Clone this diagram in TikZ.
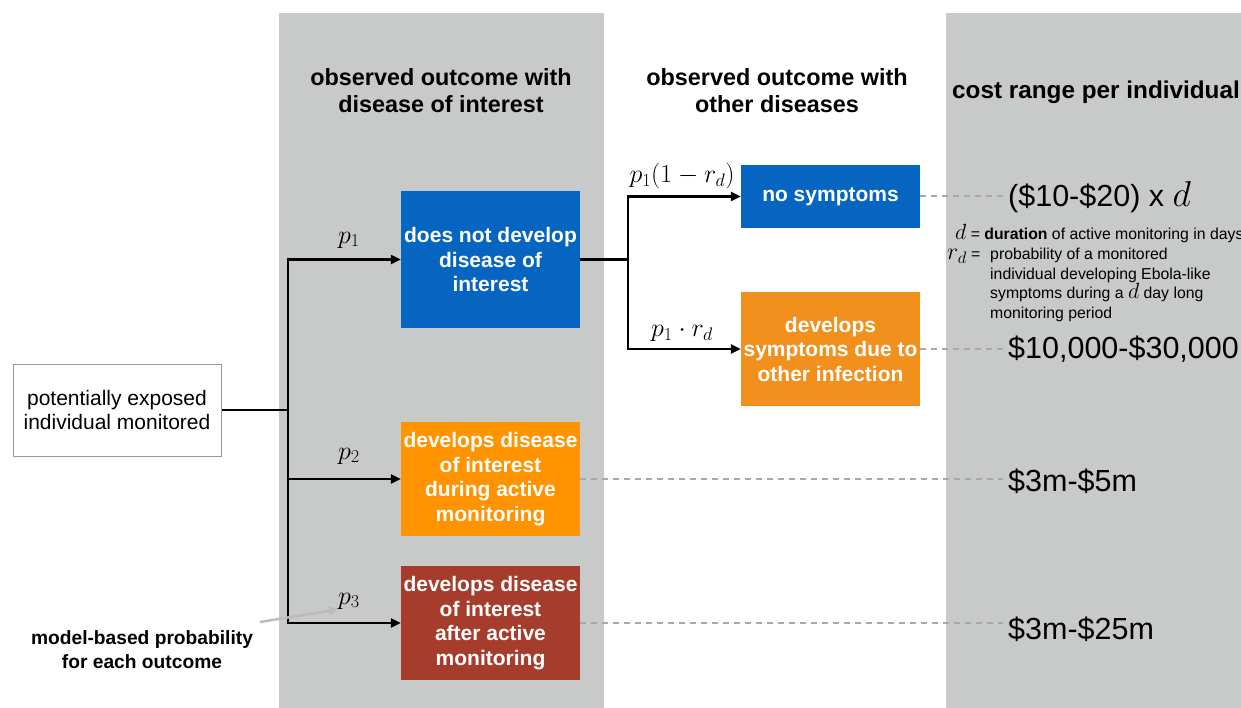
\RequirePackage{fix-cm}
\documentclass[tikz,border=0pt]{standalone}
\usepackage{fontspec}
\setmainfont{Liberation Sans}
\usetikzlibrary{arrows.meta}
\definecolor{panelgray}{HTML}{C8C9C9}
\definecolor{boxblue}{HTML}{0565C1}
\definecolor{boxorange}{HTML}{FF9300}
\definecolor{boxred}{HTML}{A63D2C}
\definecolor{othorange}{HTML}{F2901E}
\definecolor{dashgray}{HTML}{A9A9A9}
\definecolor{arrgray}{HTML}{BBBBBB}
\tikzset{
  panel/.style={fill=panelgray,draw=none},
  coltitle/.style={font=\bfseries\fontsize{23.4}{27}\selectfont,align=center,inner sep=0pt},
  outbox/.style={text=white,font=\bfseries\fontsize{21}{24.5}\selectfont,align=center,inner sep=0pt,minimum width=179pt},
  conn/.style={line width=2.4pt,draw=black},
  arr/.style={conn,-{Triangle[length=10pt,width=9pt]}},
  dashline/.style={line width=2pt,draw=dashgray,dash pattern=on 6pt off 5pt},
  problabel/.style={font=\fontsize{26}{26}\selectfont,inner sep=0pt},
  cost/.style={font=\fontsize{30.5}{30.5}\selectfont,anchor=west,inner sep=5pt},
  legend/.style={font=\fontsize{15.8}{19.5}\selectfont,inner sep=0pt,align=left},
}
\begin{document}
\begin{tikzpicture}[x=1pt,y=-1pt]
\useasboundingbox (0,0) rectangle (1241,708);
\fill[panel] (279,13) rectangle (604,708);
\fill[panel] (946,13) rectangle (1241,708);

\node[coltitle] (t1) at (441,90.5) {observed outcome with\\disease of interest};
\node[coltitle] (t2) at (777,90.5) {observed outcome with\\other diseases};
\node[coltitle,font=\bfseries\fontsize{24.3}{27}\selectfont,anchor=west] (t3) at (952,92) {cost range per individual};

\node[draw=gray!80,line width=1pt,fill=white,minimum width=208pt,minimum height=92pt,align=center,inner sep=0pt,font=\fontsize{21}{24.5}\selectfont] (src) at (117,410) {potentially exposed\\individual monitored};

\node[outbox,fill=boxblue,minimum height=137pt] (b1) at (490.5,259.5) {does not develop\\disease of\\interest};
\node[outbox,fill=boxorange,minimum height=114pt] (b2) at (490.5,479) {develops disease\\of interest\\during active\\monitoring};
\node[outbox,fill=boxred,minimum height=114pt] (b3) at (490.5,623) {develops disease\\of interest\\after active\\monitoring};
\node[outbox,fill=boxblue,minimum height=63pt] (ns) at (830.5,196.5) {no symptoms};
\node[outbox,fill=othorange,minimum height=114pt] (oi) at (830.5,349) {develops\\symptoms due to\\other infection};

\coordinate (j1) at (288,410);
\draw[conn] (src.east) -- (j1);
\draw[arr] (j1) |- (b1.west);
\draw[arr] (j1) |- (b2.west);
\draw[arr] (j1) |- (b3.west);
\draw[conn] (b1.east) -- ++(48,0) coordinate (j2);
\draw[arr] (j2) |- (ns.west);
\draw[arr] (j2) |- (oi.west);

\node[problabel] (p1) at (349,240) {$p_1$};
\node[problabel] (p2) at (349,456) {$p_2$};
\node[problabel] (p3) at (349,601) {$p_3$};
\node[problabel] (p11) at (682,176) {$p_1(1-r_d)$};
\node[problabel] (p12) at (682,333) {$p_1\cdot r_d$};

\node[cost] (c1) at (1003,197) {(\$10-\$20) x {\fontsize{36}{36}\selectfont$d$}};
\node[cost] (c2) at (1003,349) {\$10,000-\$30,000};
\node[cost] (c3) at (1003,481) {\$3m-\$5m};
\node[cost] (c4) at (1003,629) {\$3m-\$25m};
\draw[dashline] (ns.east) -- (ns.east -| c1.west);
\draw[dashline] (oi.east) -- (oi.east -| c2.west);
\draw[dashline] (b2.east) -- (b2.east -| c3.west);
\draw[dashline] (b3.east) -- (b3.east -| c4.west);

\node[legend,anchor=base west] (l1) at (955,240) {{\fontsize{22}{22}\selectfont$d$} = \textbf{duration} of active monitoring in days};
\node[legend,anchor=base west] (l2) at (947,260) {{\fontsize{24}{24}\selectfont$r_d$} =};
\node[legend,anchor=north west] (l3) at (990,248) {probability of a monitored\\individual developing Ebola-like\\symptoms during a {\fontsize{22}{22}\selectfont$d$} day long\\monitoring period};

\node[font=\bfseries\fontsize{19.2}{24}\selectfont,align=center,inner sep=0pt] (mb) at (142,650) {model-based probability\\for each outcome};
\coordinate (mbs) at (260,622);
\draw[line width=2.4pt,draw=arrgray,-{Triangle[length=9pt,width=8pt]}] (mbs) -- (p3.south west);
\end{tikzpicture}
\end{document}
